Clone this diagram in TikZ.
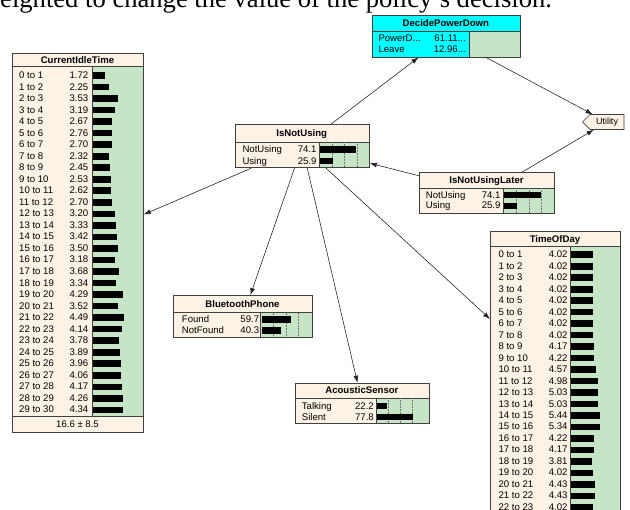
\documentclass[tikz,border=0pt]{standalone}
\usepackage{fontspec}
\setmainfont{Liberation Serif}
\newfontfamily\ns{Liberation Sans}
\usetikzlibrary{arrows.meta,shapes.symbols}
\definecolor{cream}{RGB}{252,243,230}
\definecolor{bargreen}{RGB}{198,228,198}
\definecolor{dcyan}{RGB}{0,255,255}
\definecolor{bord}{RGB}{64,64,64}
\tikzset{
  boxnode/.style={draw=bord, line width=0.8pt, rectangle, inner sep=0pt, anchor=north west},
  conn/.style={draw=black!85, line width=0.6pt, -{Latex[length=7pt,width=5pt]}},
  lbl/.style={font=\ns\fontsize{9.6}{11}\selectfont, inner sep=0pt, anchor=base west},
  num/.style={font=\ns\fontsize{9.6}{11}\selectfont, inner sep=0pt, anchor=base east},
  ttl/.style={font=\ns\bfseries\fontsize{9.6}{11}\selectfont, inner sep=0pt, anchor=base},
  gridln/.style={draw=black!55, densely dotted, line width=0.5pt},
  sepline/.style={draw=bord, line width=0.6pt},
}
% L, T, R, titleB, divider, B, title fill, label fill
\newcommand\boxbg[8]{%
  \fill[#7] (#1,#2) rectangle (#3,#4);
  \fill[#8] (#1,#4) rectangle (#5,#6);
  \fill[bargreen] (#5,#4) rectangle (#3,#6);
  \draw[sepline] (#1,#4) -- (#3,#4);
  \draw[sepline] (#5,#4) -- (#5,#6);
}
% name, labelx, numx, barx, ycenter, label, value text, value, scale
\newcommand\staterow[9]{%
  \node[lbl] (#1-l) at (#2,{#5+3.5}) {#6};
  \node[num] (#1-v) at (#3,{#5+3.5}) {#7};
  \fill[black] (#4,{#5-2.8}) rectangle ({#4+#8*#9},{#5+3.8});
}
% barx, scale, top, bottom
\newcommand\gridlines[4]{%
  \foreach \p in {25,50,75} {\draw[gridln] ({#1+\p*#2},#3) -- ({#1+\p*#2},#4);}
}
\begin{document}
\begin{tikzpicture}[x=1pt,y=-1pt]
\useasboundingbox (0,0) rectangle (630,510);
\node[anchor=base west, inner sep=0pt, font=\fontsize{26.6}{30}\selectfont] (caption) at (0,7.5) {eighted to change the value of the policy’s decision.};

% ---------- CurrentIdleTime ----------
\boxbg{12}{53}{143}{66.7}{92.5}{416.3}{cream}{cream}
\fill[cream] (12,416.3) rectangle (143,432);
\draw[sepline] (12,416.3) -- (143,416.3);
\node[ttl] (cit-t) at (77.5,63.4) {CurrentIdleTime};
\foreach \v [count=\i from 0] in {1.72,2.25,3.53,3.19,2.67,2.76,2.70,2.32,2.45,2.53,2.62,2.70,3.20,3.33,3.42,3.50,3.18,3.68,3.34,4.29,3.52,4.49,4.14,3.78,3.89,3.96,4.06,4.17,4.26,4.34} {
  \staterow{cit\i}{19}{88.5}{93}{75+11.53*\i}{\i{} to \the\numexpr\i+1\relax}{\v}{\v}{7}
}
\node[font=\ns\fontsize{9.6}{11}\selectfont, inner sep=0pt, anchor=base] (cit-f) at (77.5,427.5) {16.6 ± 8.5};
\node[boxnode, minimum width=131pt, minimum height=379pt] (cit) at (12,53) {};

% ---------- TimeOfDay ----------
\boxbg{490}{231}{620}{246.5}{570}{526}{cream}{cream}
\node[ttl] (tod-t) at (555,242.3) {TimeOfDay};
\foreach \v [count=\i from 0] in {4.02,4.02,4.02,4.02,4.02,4.02,4.02,4.02,4.17,4.22,4.57,4.98,5.03,5.03,5.44,5.34,4.22,4.17,3.81,4.02,4.43,4.43,4.02} {
  \staterow{tod\i}{498.3}{567.7}{571}{254.3+11.48*\i}{\i{} to \the\numexpr\i+1\relax}{\v}{\v}{5.4}
}
\node[boxnode, minimum width=130pt, minimum height=295pt] (tod) at (490,231) {};

% ---------- IsNotUsing ----------
\boxbg{234.5}{124.3}{369}{142.3}{319.3}{167.3}{cream}{cream}
\gridlines{320}{0.49}{142.3}{167.3}
\node[ttl] (inu-t) at (301.75,136.8) {IsNotUsing};
\staterow{inu1}{242.3}{316.7}{320}{149}{NotUsing}{74.1}{74.1}{0.49}
\staterow{inu2}{242.3}{316.7}{320}{160.7}{Using}{25.9}{25.9}{0.49}
\node[boxnode, minimum width=134.5pt, minimum height=43pt] (inu) at (234.5,124.3) {};

% ---------- IsNotUsingLater ----------
\boxbg{419}{172.3}{554}{188.3}{503.3}{212.7}{cream}{cream}
\gridlines{504}{0.5}{188.3}{212.7}
\node[ttl] (later-t) at (486.5,183.8) {IsNotUsingLater};
\staterow{later1}{425.7}{500.7}{504}{194.7}{NotUsing}{74.1}{74.1}{0.5}
\staterow{later2}{425.7}{500.7}{504}{205.5}{Using}{25.9}{25.9}{0.5}
\node[boxnode, minimum width=135pt, minimum height=40.4pt] (later) at (419,172.3) {};

% ---------- BluetoothPhone ----------
\boxbg{173.3}{295}{311.7}{312.7}{260.7}{337.3}{cream}{cream}
\gridlines{261.5}{0.486}{312.7}{337.3}
\node[ttl] (bt-t) at (242.5,307.4) {BluetoothPhone};
\staterow{bt1}{181.7}{259.3}{261.5}{319.3}{Found}{59.7}{59.7}{0.486}
\staterow{bt2}{181.7}{259.3}{261.5}{330.3}{NotFound}{40.3}{40.3}{0.486}
\node[boxnode, minimum width=138.4pt, minimum height=42.3pt] (bt) at (173.3,295) {};

% ---------- AcousticSensor ----------
\boxbg{294.5}{382.7}{429.3}{398.3}{376}{423.3}{cream}{cream}
\gridlines{376.5}{0.47}{398.3}{423.3}
\node[ttl] (ac-t) at (361.9,394) {AcousticSensor};
\staterow{ac1}{301.7}{374}{376.5}{405.7}{Talking}{22.2}{22.2}{0.47}
\staterow{ac2}{301.7}{374}{376.5}{416.7}{Silent}{77.8}{77.8}{0.47}
\node[boxnode, minimum width=134.8pt, minimum height=40.6pt] (ac) at (294.5,382.7) {};

% ---------- DecidePowerDown ----------
\boxbg{371.7}{15}{520}{31.7}{469.3}{56.7}{dcyan}{dcyan}
\node[ttl] (dpd-t) at (445.85,26.8) {DecidePowerDown};
\node[lbl] (dpd1-l) at (378.3,41.2) {PowerD...};
\node[num] (dpd1-v) at (466,41.2) {61.11...};
\node[lbl] (dpd2-l) at (378.3,52.8) {Leave};
\node[num] (dpd2-v) at (466,52.8) {12.96...};
\node[boxnode, minimum width=148.3pt, minimum height=41.7pt] (dpd) at (371.7,15) {};

% ---------- Utility ----------
\node[signal, signal to=west, draw=bord, line width=0.7pt, fill=cream, minimum height=15pt, inner xsep=6pt, inner ysep=2pt, font=\ns\fontsize{9}{10}\selectfont] (util) at (607,122) {Utility};

% ---------- connectors ----------
\draw[conn] (inu) -- (dpd);
\draw[conn] (dpd) -- (util);
\draw[conn] (later) -- (util);
\draw[conn] (later) -- (inu);
\draw[conn] (inu) -- (cit);
\draw[conn] (inu) -- (bt);
\draw[conn] (inu) -- (ac);
\draw[conn] (inu) -- (tod);
\end{tikzpicture}
\end{document}
